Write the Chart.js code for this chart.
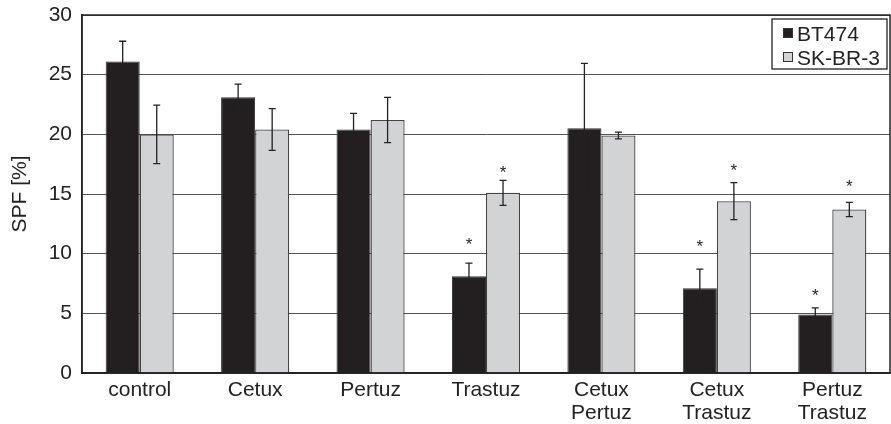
<!DOCTYPE html>
<html>
<head>
<meta charset="utf-8">
<script src="https://cdn.jsdelivr.net/npm/chart.js@4/dist/chart.umd.min.js"></script>
<style>
  html, body { margin: 0; padding: 0; background: #fff; }
  #wrap { width: 891px; height: 424px; position: relative; }
</style>
</head>
<body>
<div id="wrap"><canvas id="c"></canvas></div>
<script>
// Treatment groups (two-line labels where needed)
const categories = [
  'control', 'Cetux', 'Pertuz', 'Trastuz',
  ['Cetux', 'Pertuz'], ['Cetux', 'Trastuz'], ['Pertuz', 'Trastuz']
];
const seriesNames = ['BT474', 'SK-BR-3'];

// Mean S-phase fraction (%) per cell line
const bt474 = [26.1, 23.1, 20.4, 8.1, 20.5, 7.1, 4.9];
const skbr3 = [20.0, 20.4, 21.2, 15.1, 19.9, 14.4, 13.7];

// Standard deviations
const bt474Err = [1.7, 1.1, 1.35, 1.1, 5.45, 1.6, 0.55];
const skbr3Err = [2.45, 1.75, 1.9, 1.05, 0.28, 1.55, 0.6];

// Significance markers: height (in % units) of the asterisk, null = none
const bt474Sig = [null, null, null, 11.0, null, 10.85, 6.75];
const skbr3Sig = [null, null, null, 17.1, null, 17.2, 15.9];

const yTicks = [0, 5, 10, 15, 20, 25, 30];

const FONT = '"Liberation Sans", Arial, Helvetica, sans-serif';
const DARK = '#231f20';
const LIGHT = '#d1d3d4';

const errors = [bt474Err, skbr3Err];
const sigs = [bt474Sig, skbr3Sig];

const decorPlugin = {
  id: 'decor',
  afterDatasetsDraw(chart) {
    const ctx = chart.ctx;
    const y = chart.scales.y;
    const area = chart.chartArea;
    ctx.save();
    // frame around the plot area
    ctx.strokeStyle = '#222';
    ctx.lineWidth = 1.5;
    ctx.strokeRect(area.left, area.top, area.right - area.left, area.bottom - area.top);

    // error bars and asterisks
    chart.data.datasets.forEach((ds, di) => {
      const meta = chart.getDatasetMeta(di);
      meta.data.forEach((bar, i) => {
        const v = ds.data[i];
        const e = errors[di][i];
        const x = bar.x;
        const yt = y.getPixelForValue(v + e);
        const yb = y.getPixelForValue(v - e);
        ctx.strokeStyle = '#222';
        ctx.lineWidth = 1.3;
        ctx.beginPath();
        ctx.moveTo(x, yt); ctx.lineTo(x, yb);
        ctx.moveTo(x - 3.5, yt); ctx.lineTo(x + 3.5, yt);
        ctx.moveTo(x - 3.5, yb); ctx.lineTo(x + 3.5, yb);
        ctx.stroke();
        const s = sigs[di][i];
        if (s !== null) {
          ctx.fillStyle = '#222';
          ctx.font = '17px ' + FONT;
          ctx.textAlign = 'center';
          ctx.textBaseline = 'middle';
          ctx.fillText('*', x, y.getPixelForValue(s) + 4);
        }
      });
    });

    // legend box in the upper right corner
    const lx = 772, ly = 19, lw = 115, lh = 50;
    ctx.fillStyle = '#fff';
    ctx.fillRect(lx, ly, lw, lh);
    ctx.strokeStyle = '#222';
    ctx.lineWidth = 1.3;
    ctx.strokeRect(lx, ly, lw, lh);
    ctx.font = '21px ' + FONT;
    ctx.textAlign = 'left';
    ctx.textBaseline = 'alphabetic';
    chart.data.datasets.forEach((ds, di) => {
      const cy = ly + 14 + di * 24;
      ctx.fillStyle = ds.backgroundColor;
      ctx.fillRect(lx + 11.5, cy - 4.5, 9, 9);
      ctx.strokeStyle = '#333';
      ctx.lineWidth = 1;
      ctx.strokeRect(lx + 11.5, cy - 4.5, 9, 9);
      ctx.fillStyle = '#222';
      ctx.fillText(ds.label, lx + 25, cy + 7.5);
    });

    // y-axis title
    ctx.save();
    ctx.translate(20, 194);
    ctx.rotate(-Math.PI / 2);
    ctx.textAlign = 'center';
    ctx.textBaseline = 'middle';
    ctx.font = '21px ' + FONT;
    ctx.fillStyle = '#222';
    ctx.fillText('SPF [%]', 0, 0);
    ctx.restore();

    ctx.restore();
  }
};

new Chart(document.getElementById('c'), {
  type: 'bar',
  data: {
    labels: categories,
    datasets: [
      { label: seriesNames[0], data: bt474, backgroundColor: DARK, borderColor: '#333', borderWidth: 1 },
      { label: seriesNames[1], data: skbr3, backgroundColor: LIGHT, borderColor: '#444', borderWidth: 1.3 }
    ]
  },
  options: {
    responsive: true,
    maintainAspectRatio: false,
    animation: false,
    layout: { padding: { top: 15, right: 1, left: 0, bottom: 0 } },
    datasets: { bar: { categoryPercentage: 0.59, barPercentage: 1.0 } },
    plugins: { legend: { display: false }, tooltip: { enabled: false } },
    scales: {
      x: {
        grid: { display: false, drawTicks: false },
        border: { display: true, color: '#222', width: 1.5 },
        ticks: {
          color: '#222',
          font: { family: FONT, size: 21, lineHeight: '23.5px' },
          padding: 5,
          maxRotation: 0,
          autoSkip: false
        },
        afterFit(scale) { scale.height = 51; }
      },
      y: {
        min: 0,
        max: 30,
        afterBuildTicks(scale) { scale.ticks = yTicks.map(v => ({ value: v })); },
        grid: { color: '#555', lineWidth: 1, drawTicks: false },
        border: { display: true, color: '#222', width: 1.5 },
        ticks: {
          color: '#222',
          font: { family: FONT, size: 21, lineHeight: 0.4 },
          padding: 10
        },
        afterFit(scale) { scale.width = 82; }
      }
    }
  },
  plugins: [decorPlugin]
});
</script>
</body>
</html>
